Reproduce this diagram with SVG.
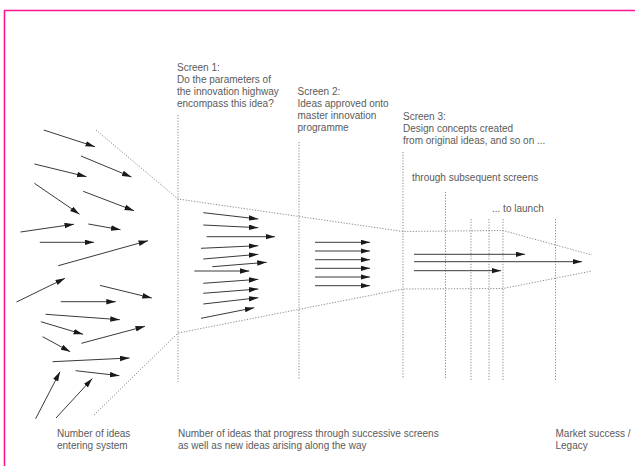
<svg xmlns="http://www.w3.org/2000/svg" width="635" height="466" viewBox="0 0 635 466">
<style>
.t{font-family:"Liberation Sans",Arial,sans-serif;font-size:10px;fill:#5a5a5a}
.dot{stroke:#8a8a8a;stroke-width:1;stroke-dasharray:1.2 1.6;fill:none}
.arr{stroke:#3a3a3a;stroke-width:1;fill:none;marker-end:url(#ah)}
</style>
<defs>
<marker id="ah" markerUnits="userSpaceOnUse" markerWidth="10" markerHeight="6" refX="9.5" refY="2.75" orient="auto">
<path d="M0,0 L9.5,2.75 L0,5.5 z" fill="#1a1a1a"/>
</marker>
</defs>
<rect x="0" y="0" width="635" height="466" fill="#fff"/>
<path d="M4.5,466 V10.5 H635" stroke="#ff1493" stroke-width="1.6" fill="none"/>

<g id="screen-lines">
<line class="dot" x1="178" y1="115" x2="178" y2="382"/>
<line class="dot" x1="299" y1="142" x2="299" y2="379"/>
<line class="dot" x1="403" y1="152" x2="403" y2="379"/>
<line class="dot" x1="445.5" y1="192" x2="445.5" y2="378"/>
<line class="dot" x1="471" y1="219" x2="471" y2="380"/>
<line class="dot" x1="489" y1="219" x2="489" y2="380"/>
<line class="dot" x1="503" y1="219" x2="503" y2="380"/>
<line class="dot" x1="555.5" y1="219" x2="555.5" y2="380"/>
</g>

<g id="funnel">
<polyline class="dot" points="96,130 178,199 403,231.5 503,230.5 592,255"/>
<polyline class="dot" points="94,415 178,333 403,289 503,288.5 592,271"/>
</g>

<g id="connectors">
<line class="arr" x1="43.7" y1="130" x2="95" y2="146.7"/>
<line class="arr" x1="81" y1="156" x2="131.5" y2="177"/>
<line class="arr" x1="34.4" y1="164" x2="86.5" y2="176.7"/>
<line class="arr" x1="34.4" y1="183.3" x2="79.5" y2="214.2"/>
<line class="arr" x1="83.2" y1="191.3" x2="134" y2="210.7"/>
<line class="arr" x1="20.5" y1="232" x2="74" y2="224.2"/>
<line class="arr" x1="88.3" y1="224" x2="120.5" y2="229.7"/>
<line class="arr" x1="39.8" y1="242.3" x2="94" y2="242.3"/>
<line class="arr" x1="58.2" y1="265.7" x2="148" y2="240.7"/>
<line class="arr" x1="16.5" y1="302" x2="65" y2="278.3"/>
<line class="arr" x1="100" y1="285.4" x2="151.8" y2="298"/>
<line class="arr" x1="60.8" y1="301.7" x2="115.8" y2="301.7"/>
<line class="arr" x1="45.5" y1="314.3" x2="119.8" y2="319.7"/>
<line class="arr" x1="40.8" y1="321.7" x2="83" y2="334.3"/>
<line class="arr" x1="81.4" y1="343.3" x2="145" y2="326.3"/>
<line class="arr" x1="42.6" y1="336.7" x2="70.2" y2="351.7"/>
<line class="arr" x1="52.6" y1="361.7" x2="129.5" y2="358"/>
<line class="arr" x1="75.6" y1="370.7" x2="119.4" y2="375.7"/>
<line class="arr" x1="35.6" y1="418.8" x2="60" y2="371.7"/>
<line class="arr" x1="56" y1="418" x2="92.3" y2="378.6"/>

<line class="arr" x1="203.3" y1="212.7" x2="258.3" y2="219"/>
<line class="arr" x1="203.3" y1="225" x2="258.3" y2="227.7"/>
<line class="arr" x1="206.7" y1="236.7" x2="275" y2="236.7"/>
<line class="arr" x1="201" y1="248.3" x2="258.3" y2="245.7"/>
<line class="arr" x1="203.3" y1="259" x2="258.3" y2="254.3"/>
<line class="arr" x1="212.3" y1="266.7" x2="266.7" y2="262.3"/>
<line class="arr" x1="194.3" y1="271" x2="249.3" y2="271"/>
<line class="arr" x1="203.3" y1="283.3" x2="258.3" y2="279.3"/>
<line class="arr" x1="203.3" y1="293.3" x2="258.3" y2="289"/>
<line class="arr" x1="203.3" y1="304" x2="258.3" y2="297.7"/>
<line class="arr" x1="201" y1="318.3" x2="254.3" y2="307.7"/>

<line class="arr" x1="315" y1="242.3" x2="370" y2="242.3"/>
<line class="arr" x1="315" y1="251" x2="370" y2="251"/>
<line class="arr" x1="315" y1="259.7" x2="370" y2="259.7"/>
<line class="arr" x1="315" y1="268.3" x2="370" y2="268.3"/>
<line class="arr" x1="315" y1="277" x2="370" y2="277"/>
<line class="arr" x1="315" y1="285.7" x2="370" y2="285.7"/>

<line class="arr" x1="414" y1="254.3" x2="525" y2="254.3"/>
<line class="arr" x1="414" y1="261.7" x2="582" y2="261.7"/>
<line class="arr" x1="414" y1="270.7" x2="501" y2="270.7"/>
</g>

<g id="screen1-label">
<text class="t" x="177" y="70.5">Screen 1:</text>
<text class="t" x="177" y="82.5">Do the parameters of</text>
<text class="t" x="177" y="94.5">the innovation highway</text>
<text class="t" x="177" y="106.8">encompass this idea?</text>
</g>
<g id="screen2-label">
<text class="t" x="297.5" y="95">Screen 2:</text>
<text class="t" x="297.5" y="107">Ideas approved onto</text>
<text class="t" x="297.5" y="119">master innovation</text>
<text class="t" x="297.5" y="131">programme</text>
</g>
<g id="screen3-label">
<text class="t" x="403" y="119.5">Screen 3:</text>
<text class="t" x="403" y="131.5">Design concepts created</text>
<text class="t" x="403" y="143.5">from original ideas, and so on ...</text>
</g>
<g id="subsequent-label">
<text class="t" x="412" y="181">through subsequent screens</text>
</g>
<g id="launch-label">
<text class="t" x="492" y="212">... to launch</text>
</g>
<g id="entering-label">
<text class="t" x="57" y="437">Number of ideas</text>
<text class="t" x="57" y="449">entering system</text>
</g>
<g id="progress-label">
<text class="t" x="178" y="437">Number of ideas that progress through successive screens</text>
<text class="t" x="178" y="449">as well as new ideas arising along the way</text>
</g>
<g id="market-label">
<text class="t" x="555.5" y="437">Market success /</text>
<text class="t" x="555.5" y="449">Legacy</text>
</g>
</svg>
